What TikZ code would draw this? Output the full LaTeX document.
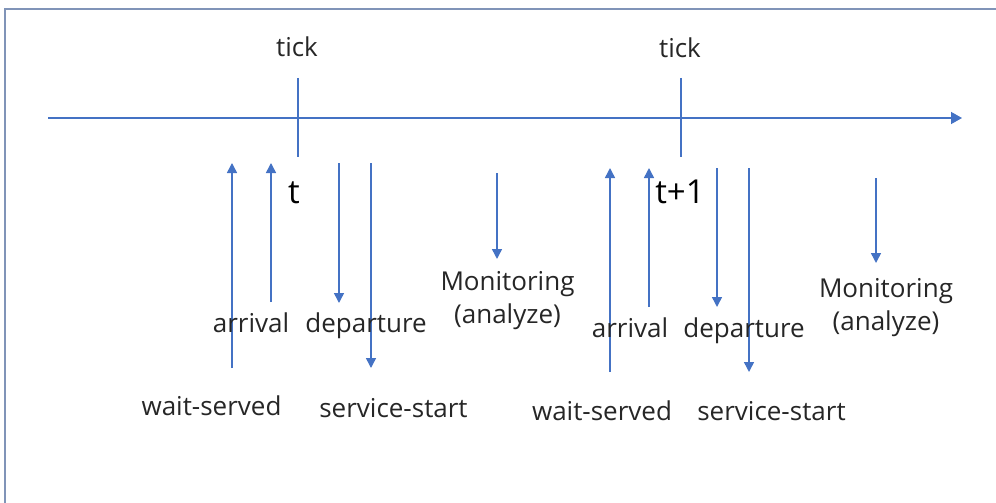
\documentclass[tikz,border=0pt]{standalone}
\usepackage{fontspec}
\setmainfont{Open Sans}
\usetikzlibrary{arrows.meta}
\definecolor{ln}{HTML}{4472C4}
\definecolor{fr}{HTML}{8094B8}
\definecolor{tx}{HTML}{262626}
\begin{document}
\begin{tikzpicture}[x=1pt,y=-1pt,
  lbl/.style={font=\fontsize{26}{30}\selectfont, text=tx, inner sep=0pt, anchor=base},
  tlbl/.style={font=\fontsize{33}{36}\selectfont, text=black, inner sep=0pt, anchor=base},
  evt/.style={draw=ln, line width=1.5pt, -{Triangle[width=10pt,length=10pt]}},
  tickline/.style={draw=ln, line width=1.5pt},
  frameline/.style={draw=fr, line width=2pt}]
\useasboundingbox (0,0) rectangle (996,503);
% frame
\coordinate (fbl) at (5,504);
\coordinate (ftl) at (5,9);
\coordinate (ftr) at (997,9);
\draw[frameline] (fbl) -- (ftl) -- (ftr);
% axis
\coordinate (axs) at (48,118);
\coordinate (axe) at (962,118);
\draw[evt, -{Triangle[width=12pt,length=11pt]}] (axs) -- (axe);
% ticks
\coordinate (t1a) at (298,78); \coordinate (t1b) at (298,157);
\coordinate (t2a) at (681,78); \coordinate (t2b) at (681,157);
\draw[tickline] (t1a) -- (t1b);
\draw[tickline] (t2a) -- (t2b);
\node[lbl] (tick1) at (297,57) {tick};
\node[lbl] (tick2) at (680,58) {tick};
\node[tlbl] (tt) at (294,203) {t};
\node[tlbl] (tt1) at (680,203) {t+1};
% group 1
\coordinate (w1a) at (232,368); \coordinate (w1b) at (232,163);
\coordinate (a1a) at (271,302); \coordinate (a1b) at (271,163);
\coordinate (d1a) at (339,163); \coordinate (d1b) at (339,303);
\coordinate (s1a) at (371,163); \coordinate (s1b) at (371,368);
\coordinate (m1a) at (497,173); \coordinate (m1b) at (497,259);
\draw[evt] (w1a) -- (w1b);
\draw[evt] (a1a) -- (a1b);
\draw[evt] (d1a) -- (d1b);
\draw[evt] (s1a) -- (s1b);
\draw[evt] (m1a) -- (m1b);
\node[lbl] (arr1) at (251,332) {arrival};
\node[lbl] (dep1) at (366,332) {departure};
\node[lbl] (ws1) at (211.5,415) {wait-served};
\node[lbl] (ss1) at (393.5,417) {service-start};
\node[lbl] (mon1) at (507.5,290) {Monitoring};
\node[lbl] (ana1) at (507.5,323) {(analyze)};
% group 2
\coordinate (w2a) at (610,372); \coordinate (w2b) at (610,168);
\coordinate (a2a) at (649,307); \coordinate (a2b) at (649,168);
\coordinate (d2a) at (717,168); \coordinate (d2b) at (717,307);
\coordinate (s2a) at (749,168); \coordinate (s2b) at (749,372);
\coordinate (m2a) at (876,178); \coordinate (m2b) at (876,263);
\draw[evt] (w2a) -- (w2b);
\draw[evt] (a2a) -- (a2b);
\draw[evt] (d2a) -- (d2b);
\draw[evt] (s2a) -- (s2b);
\draw[evt] (m2a) -- (m2b);
\node[lbl] (arr2) at (630,337) {arrival};
\node[lbl] (dep2) at (744,337) {departure};
\node[lbl] (ws2) at (602,420) {wait-served};
\node[lbl] (ss2) at (771.5,420) {service-start};
\node[lbl] (mon2) at (886,297) {Monitoring};
\node[lbl] (ana2) at (886,330) {(analyze)};
\end{tikzpicture}
\end{document}
